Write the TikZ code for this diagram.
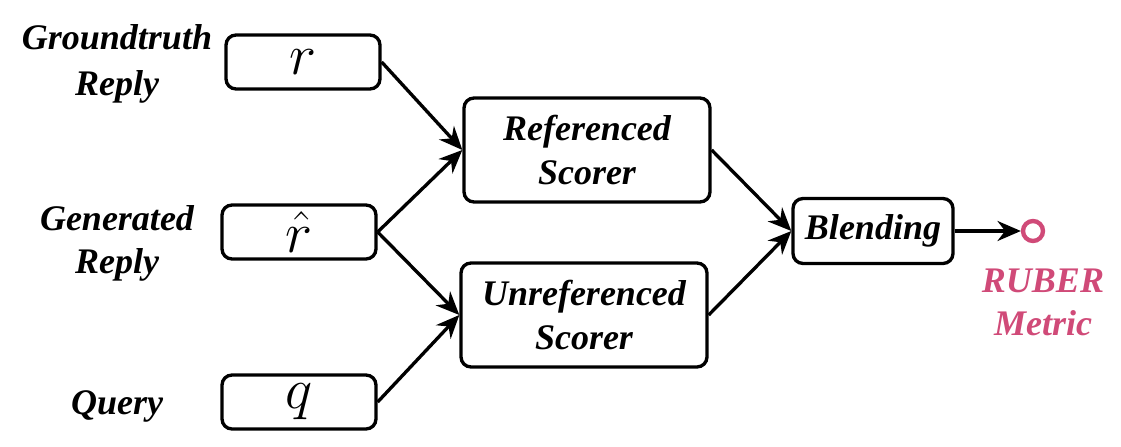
\documentclass[tikz,border=0pt]{standalone}
\usepackage{fontspec}
\setmainfont{Liberation Serif}
\usetikzlibrary{arrows.meta}
\definecolor{rubercol}{RGB}{208,74,120}

\begin{document}
\begin{tikzpicture}[x=0.3pt, y=-0.3pt, font=\fontsize{10.8}{13}\selectfont\bfseries\itshape]
		\tikzstyle{box}=[
		draw,
		rectangle,
		rounded corners=3pt,
		line width=1pt,
		inner sep=0pt,
		text centered,
		minimum width=46.2pt,
		minimum height=16.2pt]
		\tikzstyle{scorer}=[
		box,
		align=center,
		minimum width=73.8pt,
		minimum height=31.2pt]
		\tikzstyle{label}=[
		align=center]
		\tikzstyle{arrow}=[
		-{Stealth[length=7pt, width=6pt]},
		line width=1pt]
		\useasboundingbox (0,0) rectangle (1121,447);
		\node[box] (R) at (303,62) {\fontsize{16}{16}\selectfont $r$};
		\node[box] (RH) at (299,232) {\fontsize{16}{16}\selectfont $\hat{r}$};
		\node[box] (Q) at (299,402) {\fontsize{16}{16}\selectfont $q$};
		\node[scorer] (REF) at (587,150) {Referenced\\Scorer};
		\node[scorer] (UNREF) at (584,315) {Unreferenced\\Scorer};
		\node[box, minimum width=48pt, minimum height=19.5pt] (BL) at (873,231) {Blending};
		\node[circle, draw=rubercol, line width=1.3pt, minimum size=6pt, inner sep=0pt] (OUT) at (1033,231) {};
		%
		\node[label, left of=R, node distance=55.8pt, yshift=-0.6pt, font=\fontsize{10.8}{13.6}\selectfont\bfseries\itshape] (R_L) {Groundtruth\\Reply};
		\node[label, left of=RH, node distance=54.6pt, yshift=-3.4pt] (RH_L) {Generated\\Reply};
		\node[label, left of=Q, node distance=54.6pt, yshift=-1.4pt] (Q_L) {Query};
		\node[label, text=rubercol, below of=OUT, node distance=21.5pt, xshift=3pt] (OUT_L) {RUBER\\Metric};
		%
		\path [arrow] (R.east) edge (REF.west);
		\path [arrow] (RH.east) edge (REF.west);
		\path [arrow] (RH.east) edge (UNREF.west);
		\path [arrow] (Q.east) edge (UNREF.west);
		\path [arrow] (REF.east) edge (BL.west);
		\path [arrow] (UNREF.east) edge (BL.west);
		\path [arrow] (BL.east) edge (OUT.west);
	\end{tikzpicture}
\end{document}
